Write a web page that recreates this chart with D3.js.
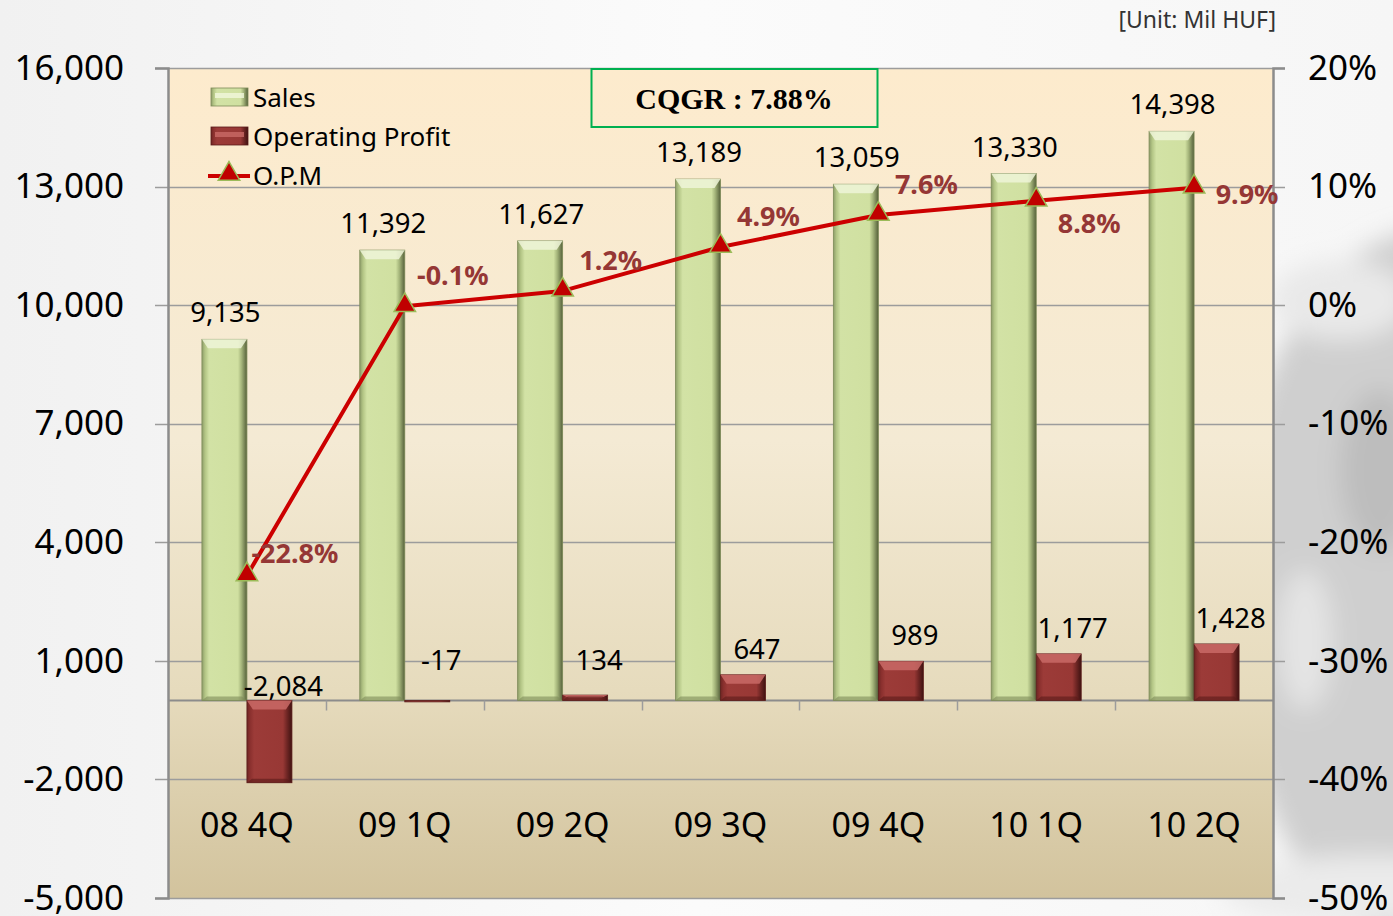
<!DOCTYPE html>
<html>
<head>
<meta charset="utf-8">
<script src="https://cdn.jsdelivr.net/npm/d3@7"></script>
<style>
  html, body { margin: 0; padding: 0; background: #fff; }
  svg { display: block; }
</style>
</head>
<body>
<div id="chart"></div>
<script>
// data
var categories = ["08 4Q", "09 1Q", "09 2Q", "09 3Q", "09 4Q", "10 1Q", "10 2Q"];
var sales = [9135, 11392, 11627, 13189, 13059, 13330, 14398];
var profit = [-2084, -17, 134, 647, 989, 1177, 1428];
var opm = [-22.8, -0.1, 1.2, 4.9, 7.6, 8.8, 9.9];
var leftTicks = [-5000, -2000, 1000, 4000, 7000, 10000, 13000, 16000];
var rightTicks = [-50, -40, -30, -20, -10, 0, 10, 20];
var cqgrText = "CQGR : 7.88%";
var unitText = "[Unit: Mil HUF]";
// where each O.P.M label sits relative to its marker
var opmLabelPlace = ["upright", "above", "above", "above", "above", "below", "right"];

var W = 1393, H = 916;
var plot = {left: 168, right: 1273, top: 68, bottom: 898};
var font = "'Noto Sans', 'Open Sans', sans-serif";

// plain hyphen for negatives, like the original
var fmt = d3.formatLocale({decimal: ".", thousands: ",", grouping: [3],
                           currency: ["", ""], minus: "-"}).format(",");

var svg = d3.select("#chart").append("svg")
    .attr("width", W)
    .attr("height", H);

var defs = svg.append("defs");

// page background
var bg = defs.append("linearGradient").attr("id", "pageBg")
    .attr("x1", 0).attr("x2", 1).attr("y1", 0).attr("y2", 0);
bg.append("stop").attr("offset", 0).attr("stop-color", "#f1f1f1");
bg.append("stop").attr("offset", 0.5).attr("stop-color", "#fbfbfb");
bg.append("stop").attr("offset", 1).attr("stop-color", "#f6f6f6");

var blur = defs.append("filter").attr("id", "blur")
    .attr("x", "-50%").attr("y", "-50%").attr("width", "200%").attr("height", "200%");
blur.append("feGaussianBlur").attr("stdDeviation", 12);

// plot background
var pg = defs.append("linearGradient").attr("id", "plotBg")
    .attr("x1", 0).attr("x2", 0).attr("y1", 0).attr("y2", 1);
pg.append("stop").attr("offset", 0).attr("stop-color", "#fdebcd");
pg.append("stop").attr("offset", 0.45).attr("stop-color", "#f4ead4");
pg.append("stop").attr("offset", 0.75).attr("stop-color", "#e6dbbd");
pg.append("stop").attr("offset", 1).attr("stop-color", "#d2c39d");

// bar gradients
function hGrad(id, stops) {
  var g = defs.append("linearGradient").attr("id", id)
      .attr("x1", 0).attr("x2", 1).attr("y1", 0).attr("y2", 0);
  stops.forEach(function(s) {
    g.append("stop").attr("offset", s[0]).attr("stop-color", s[1]);
  });
}
hGrad("salesFill", [[0, "#8d9c69"], [0.07, "#b3c585"], [0.16, "#d2e2a5"],
                    [0.8, "#d0e0a1"], [0.88, "#a4b47a"], [1, "#55603a"]]);
hGrad("profitFill", [[0, "#6e2523"], [0.07, "#8a302e"], [0.16, "#9c3b38"],
                     [0.8, "#983835"], [0.88, "#742826"], [1, "#3f1211"]]);

svg.append("rect").attr("width", W).attr("height", H).attr("fill", "url(#pageBg)");

// faded wheel on the right
var wheel = svg.append("g").attr("filter", "url(#blur)");
wheel.append("ellipse").attr("cx", 1430).attr("cy", 590).attr("rx", 200).attr("ry", 360)
    .attr("fill", "#cfcfcf");
wheel.append("ellipse").attr("cx", 1340).attr("cy", 300).attr("rx", 70).attr("ry", 40)
    .attr("fill", "#e9e9e9");
wheel.append("ellipse").attr("cx", 1370).attr("cy", 890).attr("rx", 150).attr("ry", 35)
    .attr("fill", "#ebebeb");
wheel.append("ellipse").attr("cx", 1305).attr("cy", 640).attr("rx", 28).attr("ry", 70)
    .attr("fill", "#e4e4e4");
wheel.append("ellipse").attr("cx", 1380).attr("cy", 470).attr("rx", 40).attr("ry", 80)
    .attr("fill", "#bdbdbd");

// scales
var x = d3.scaleBand().domain(categories).range([plot.left, plot.right]).padding(0);
var xSub = d3.scaleBand().domain(["sales", "profit"])
    .range([x.bandwidth() / 2 - 45, x.bandwidth() / 2 + 45]).padding(0);
var y = d3.scaleLinear().domain([-5000, 16000]).range([plot.bottom, plot.top]);
var yR = d3.scaleLinear().domain([-50, 20]).range([plot.bottom, plot.top]);

svg.append("rect")
    .attr("x", plot.left).attr("y", plot.top)
    .attr("width", plot.right - plot.left).attr("height", plot.bottom - plot.top)
    .attr("fill", "url(#plotBg)");

// gridlines (they also stick out as ticks on both sides)
svg.append("g").selectAll("line")
  .data(leftTicks)
  .join("line")
    .attr("x1", plot.left - 13).attr("x2", plot.right + 12)
    .attr("y1", function(d) { return Math.round(y(d)) + 0.5; })
    .attr("y2", function(d) { return Math.round(y(d)) + 0.5; })
    .attr("stroke", "#9c9c9c").attr("stroke-width", 1.5);

// left axis
var axL = svg.append("g")
    .attr("transform", "translate(" + plot.left + ",0)")
    .call(d3.axisLeft(y).tickValues(leftTicks).tickSize(13).tickPadding(31)
          .tickFormat(fmt));
axL.select(".domain").attr("stroke", "#8c8c8c").attr("stroke-width", 2.5);
axL.selectAll(".tick line").attr("stroke", "none");
axL.selectAll(".tick text")
    .attr("font-family", font).attr("font-size", 35).attr("fill", "#000");

// right axis
var axR = svg.append("g")
    .attr("transform", "translate(" + plot.right + ",0)")
    .call(d3.axisRight(yR).tickValues(rightTicks).tickSize(12).tickPadding(23)
          .tickFormat(function(d) { return d + "%"; }));
axR.select(".domain").attr("stroke", "#8c8c8c").attr("stroke-width", 2.5);
axR.selectAll(".tick line").attr("stroke", "none");
axR.selectAll(".tick text")
    .attr("font-family", font).attr("font-size", 35).attr("fill", "#000");

// category axis at zero
var y0 = Math.round(y(0)) + 0.5;
svg.append("line")
    .attr("x1", plot.left).attr("x2", plot.right)
    .attr("y1", y0).attr("y2", y0)
    .attr("stroke", "#8c8c8c").attr("stroke-width", 2);
svg.append("g").selectAll("line")
  .data(categories.slice(1))
  .join("line")
    .attr("x1", function(d) { return Math.round(x(d)) + 0.5; })
    .attr("x2", function(d) { return Math.round(x(d)) + 0.5; })
    .attr("y1", y0).attr("y2", y0 + 10)
    .attr("stroke", "#9c9c9c").attr("stroke-width", 1.5);
svg.append("g").selectAll("text")
  .data(categories)
  .join("text")
    .attr("x", function(d) { return x(d) + x.bandwidth() / 2; })
    .attr("y", 837)
    .attr("text-anchor", "middle")
    .attr("font-family", font).attr("font-size", 34).attr("fill", "#000")
    .text(function(d) { return d; });

// bevelled bar
function drawBar(g, x0, w, v, fill, light, edge) {
  var top = Math.min(y(v), y(0)), h = Math.abs(y(v) - y(0));
  g.append("rect")
      .attr("x", x0).attr("y", top).attr("width", w).attr("height", Math.max(h, 1.5))
      .attr("fill", fill).attr("stroke", edge).attr("stroke-width", 0.8);
  var b = Math.min(9, h / 2);
  if (h > 4) {
    g.append("path")
        .attr("d", "M" + x0 + "," + top + "L" + (x0 + w) + "," + top +
              "L" + (x0 + w - 6) + "," + (top + b) + "L" + (x0 + 6) + "," + (top + b) + "Z")
        .attr("fill", light).attr("opacity", 0.85);
    g.append("path")
        .attr("d", "M" + x0 + "," + (top + h) + "L" + (x0 + w) + "," + (top + h) +
              "L" + (x0 + w - 5) + "," + (top + h - 4) + "L" + (x0 + 5) + "," + (top + h - 4) + "Z")
        .attr("fill", edge).attr("opacity", 0.6);
  }
}

var bars = svg.append("g");
categories.forEach(function(c, i) {
  drawBar(bars, x(c) + xSub("sales"), xSub.bandwidth(), sales[i],
          "url(#salesFill)", "#eef5d8", "#7d8b58");
  drawBar(bars, x(c) + xSub("profit"), xSub.bandwidth(), profit[i],
          "url(#profitFill)", "#c96a66", "#5a1b19");
});

// sales labels
svg.append("g").selectAll("text")
  .data(sales)
  .join("text")
    .attr("x", function(d, i) { return x(categories[i]) + xSub("sales") + xSub.bandwidth() / 2 + 1; })
    .attr("y", function(d) { return y(d) - 17; })
    .attr("text-anchor", "middle")
    .attr("font-family", font).attr("font-size", 27.5).attr("fill", "#000")
    .text(function(d) { return fmt(d); });

// profit labels
svg.append("g").selectAll("text")
  .data(profit)
  .join("text")
    .attr("x", function(d, i) { return x(categories[i]) + xSub("profit") + xSub.bandwidth() / 2 + 14; })
    .attr("y", function(d) {
      if (d < -100) return y(0) - 4;
      return Math.min(y(d) - 16, y(0) - 30);
    })
    .attr("text-anchor", "middle")
    .attr("font-family", font).attr("font-size", 27.5).attr("fill", "#000")
    .text(function(d) { return fmt(d); });

// O.P.M line
var cx = function(i) { return x(categories[i]) + x.bandwidth() / 2; };
var line = d3.line()
    .x(function(d, i) { return cx(i); })
    .y(function(d) { return yR(d); });
svg.append("path")
    .datum(opm)
    .attr("d", line)
    .attr("fill", "none").attr("stroke", "#cc0000").attr("stroke-width", 4)
    .attr("stroke-linejoin", "round");

var tri = d3.symbol().type(d3.symbolTriangle).size(200);
svg.append("g").selectAll("path")
  .data(opm)
  .join("path")
    .attr("transform", function(d, i) { return "translate(" + cx(i) + "," + (yR(d) - 1) + ")"; })
    .attr("d", tri)
    .attr("fill", "#c00000").attr("stroke", "#9bbb59").attr("stroke-width", 1.5);

var labelDx = {upright: 48, above: 48, below: 53, right: 53};
var labelDy = {upright: -12, above: -21, below: 32, right: 16};
svg.append("g").selectAll("text")
  .data(opm)
  .join("text")
    .attr("x", function(d, i) { return cx(i) + labelDx[opmLabelPlace[i]]; })
    .attr("y", function(d, i) { return yR(d) + labelDy[opmLabelPlace[i]]; })
    .attr("text-anchor", "middle")
    .attr("font-family", font).attr("font-size", 27).attr("font-weight", "bold")
    .attr("fill", "#953735")
    .text(function(d) { return d.toFixed(1) + "%"; });

// legend
var legend = svg.append("g").attr("transform", "translate(211,0)");
function swatch(yTop, fill, light, edge) {
  legend.append("rect").attr("x", 0).attr("y", yTop).attr("width", 37).attr("height", 18)
      .attr("fill", fill).attr("stroke", edge).attr("stroke-width", 0.8);
  legend.append("rect").attr("x", 4).attr("y", yTop + 5).attr("width", 29).attr("height", 5)
      .attr("fill", light).attr("opacity", 0.8);
}
swatch(88, "url(#salesFill)", "#f1f7dc", "#7d8b58");
swatch(127, "url(#profitFill)", "#c96a66", "#5a1b19");
legend.append("line").attr("x1", -3).attr("x2", 39).attr("y1", 176).attr("y2", 176)
    .attr("stroke", "#cc0000").attr("stroke-width", 4);
legend.append("path").attr("transform", "translate(18,174)").attr("d", tri)
    .attr("fill", "#c00000").attr("stroke", "#9bbb59").attr("stroke-width", 1.5);
legend.selectAll("text.lg")
  .data(["Sales", "Operating Profit", "O.P.M"])
  .join("text")
    .attr("class", "lg")
    .attr("x", 42)
    .attr("y", function(d, i) { return 107 + i * 39; })
    .attr("font-family", font).attr("font-size", 26).attr("fill", "#000")
    .text(function(d) { return d; });

// CQGR box
svg.append("rect")
    .attr("x", 591.5).attr("y", 69).attr("width", 286).attr("height", 58)
    .attr("fill", "none").attr("stroke", "#00b050").attr("stroke-width", 2);
svg.append("text")
    .attr("x", 734).attr("y", 109)
    .attr("text-anchor", "middle")
    .attr("font-family", "'Liberation Serif', 'DejaVu Serif', serif")
    .attr("font-weight", "bold").attr("font-size", 30).attr("fill", "#000")
    .text(cqgrText);

// unit
svg.append("text")
    .attr("x", 1276).attr("y", 28)
    .attr("text-anchor", "end")
    .attr("font-family", font).attr("font-size", 23).attr("fill", "#333")
    .text(unitText);
</script>
</body>
</html>
